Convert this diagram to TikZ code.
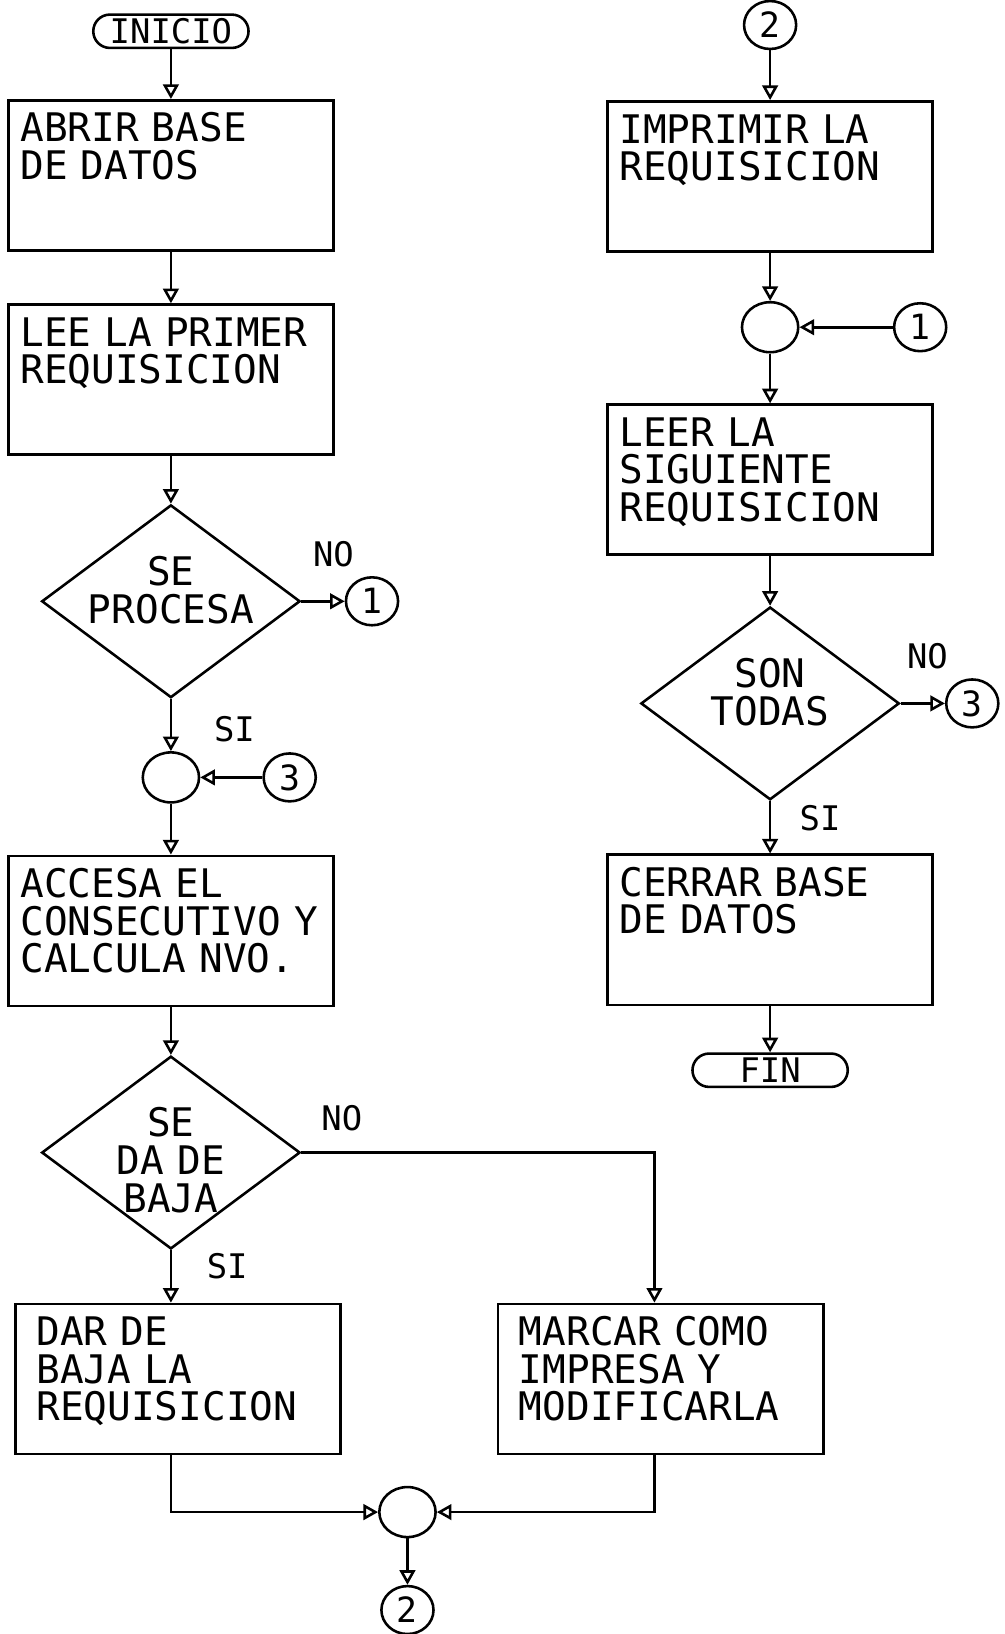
\documentclass[tikz,border=0pt]{standalone}
\usepackage{fontspec}
\setmonofont{DejaVu Sans Mono}
\usetikzlibrary{shapes.geometric, arrows.meta}

\begin{document}
\begin{tikzpicture}[x=0.2mm, y=-0.2mm, line width=1.4pt,
    font=\ttfamily\fontsize{21.5}{20.5}\selectfont,
    caja/.style={draw, rectangle, anchor=north, align=left, text width=57.8mm,
      inner xsep=2.3mm, inner ysep=1mm, text height=7mm, text depth=19.8mm},
    sangria/.style={inner xsep=4mm, text width=54.4mm},
    rombo/.style={draw, diamond, aspect=1.34, minimum width=49.6mm, minimum height=37mm,
      inner sep=0pt, align=center, text width=33mm, text height=2mm, text depth=8mm},
    term/.style={draw, rectangle, rounded corners=3.2mm, minimum width=29.8mm, minimum height=6.4mm,
      inner sep=0pt, font=\ttfamily\fontsize{18.5}{18}\selectfont},
    conector/.style={draw, ellipse, minimum width=10mm, minimum height=9.2mm, inner sep=0pt,
      font=\ttfamily\fontsize{19}{19}\selectfont},
    union/.style={draw, ellipse, minimum width=10.8mm, minimum height=9.6mm, inner sep=0pt},
    etiq/.style={inner sep=0pt, font=\ttfamily\fontsize{18.5}{18}\selectfont},
    flecha/.style={-{Triangle[open, length=2.8mm, width=3mm]}}]
    \useasboundingbox (0,0) rectangle (964,1568);
    % columna izquierda
    \node[term] (inicio) at (164,30) {INICIO};
    \node[caja] (abrir) at (164,95) {ABRIR~BASE\\DE~DATOS};
    \node[caja] (lee) at (164,291) {LEE~LA~PRIMER\\REQUISICION};
    \node[rombo] (procesa) at (164,577) {SE\\PROCESA};
    \node[conector] (unoA) at (357,577) {1};
    \node[union] (juntaA) at (164,746) {};
    \node[conector] (tresA) at (278,746) {3};
    \node[caja] (accesa) at (164,820) {ACCESA~EL\\CONSECUTIVO~Y\\CALCULA~NVO.};
    \node[rombo] (baja) at (164,1106) {SE\\DA~DE\\BAJA};
    \node[caja, sangria] (dar) at (171,1250) {DAR~DE\\BAJA~LA\\REQUISICION};
    \node[caja, sangria] (marcar) at (634,1250) {MARCAR~COMO\\IMPRESA~Y\\MODIFICARLA};
    \node[union] (juntaB) at (391,1451) {};
    \node[conector] (dosB) at (391,1545) {2};
    % columna derecha
    \node[conector] (dosA) at (739,24) {2};
    \node[caja] (imprimir) at (739,96) {IMPRIMIR~LA\\REQUISICION};
    \node[union] (juntaC) at (739,314) {};
    \node[conector] (unoB) at (883,314) {1};
    \node[caja] (leer) at (739,387) {LEER~LA\\SIGUIENTE\\REQUISICION};
    \node[rombo] (son) at (739,675) {SON\\TODAS};
    \node[conector] (tresB) at (933,675) {3};
    \node[caja] (cerrar) at (739,819) {CERRAR~BASE\\DE~DATOS};
    \node[term] (fin) at (739,1027) {FIN};
    % etiquetas
    \node[etiq] (noA) at (320,532) {NO};
    \node[etiq] (siA) at (225,700) {SI};
    \node[etiq] (noB) at (328,1073) {NO};
    \node[etiq] (siB) at (218,1215) {SI};
    \node[etiq] (noC) at (890,630) {NO};
    \node[etiq] (siC) at (787,785) {SI};
    % flechas
    \draw[flecha] (inicio.south) -- (abrir.north);
    \draw[flecha] (abrir.south) -- (lee.north);
    \draw[flecha] (lee.south) -- (procesa.north);
    \draw[flecha] (procesa.east) -- (unoA.west);
    \draw[flecha] (procesa.south) -- (juntaA.north);
    \draw[flecha] (tresA.west) -- (juntaA.east);
    \draw[flecha] (juntaA.south) -- (accesa.north);
    \draw[flecha] (accesa.south) -- (baja.north);
    \draw[flecha] (baja.south) -- (baja.south |- dar.north);
    \draw[flecha] (baja.east) -| ([xshift=-1.2mm]marcar.north);
    \draw[flecha] (dar.south -| baja.south) |- (juntaB.west);
    \draw[flecha] ([xshift=-1.2mm]marcar.south) |- (juntaB.east);
    \draw[flecha] (juntaB.south) -- (dosB.north);
    \draw[flecha] (dosA.south) -- (imprimir.north);
    \draw[flecha] (imprimir.south) -- (juntaC.north);
    \draw[flecha] (unoB.west) -- (juntaC.east);
    \draw[flecha] (juntaC.south) -- (leer.north);
    \draw[flecha] (leer.south) -- (son.north);
    \draw[flecha] (son.east) -- (tresB.west);
    \draw[flecha] (son.south) -- (cerrar.north);
    \draw[flecha] (cerrar.south) -- (fin.north);
\end{tikzpicture}
\end{document}
